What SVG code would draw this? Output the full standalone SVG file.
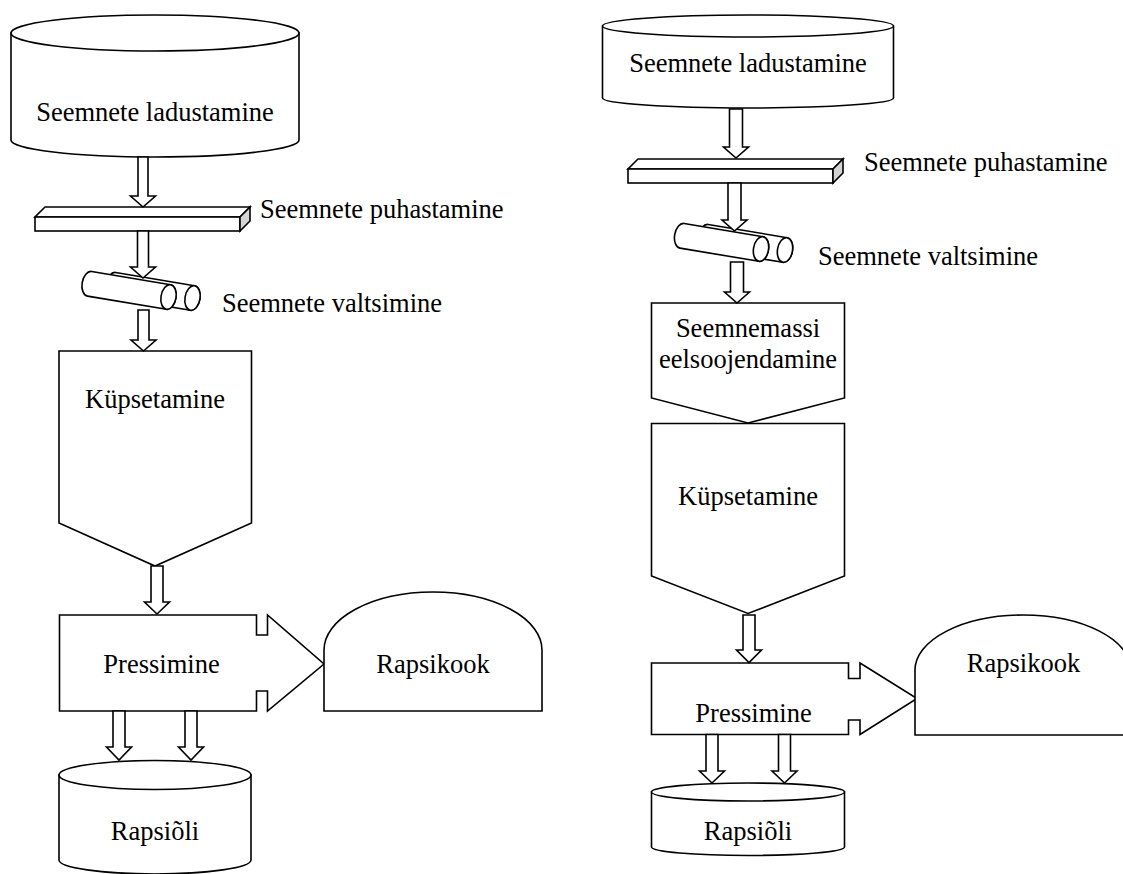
<svg xmlns="http://www.w3.org/2000/svg" width="1123" height="874" viewBox="0 0 1123 874">
<style>
.s{fill:#fff;stroke:#000;stroke-width:1.6;stroke-linejoin:miter}
.g{fill:#d4d4d4;stroke:#000;stroke-width:1.6}
.t{font-family:"Liberation Serif","Times New Roman",serif;font-size:26.5px;fill:#000}
.m{text-anchor:middle}
</style>
<defs>
<g id="roller">
<path class="s" d="M-80,-12.5 L0,-12.5 A7.5,12.5 0 0 1 0,12.5 L-80,12.5 A7.5,12.5 0 0 1 -80,-12.5 Z"/>
<ellipse class="s" cx="0" cy="0" rx="7.5" ry="12.5"/>
</g>
<g id="plate">
<path class="s" d="M0,0 L205,0 L215,-10 L10,-10 Z"/>
<rect class="s" x="0" y="0" width="205" height="14"/>
<path class="g" d="M205,0 L215,-10 L215,4 L205,14 Z"/>
</g>
</defs>
<rect width="1123" height="874" fill="#fff"/>

<g id="left-storage">
<path class="s" d="M11,33 L11,140 A144,17 0 0 0 299,140 L299,33 Z"/>
<ellipse class="s" cx="155" cy="33" rx="144" ry="18"/>
<text class="t m" x="155" y="121">Seemnete ladustamine</text>
</g>
<g id="left-cleaning">
<use href="#plate" x="35" y="217"/>
<text class="t" x="260" y="218">Seemnete puhastamine</text>
</g>
<g id="left-rolling">
<use href="#roller" transform="translate(192.5,298) rotate(9.5)"/>
<use href="#roller" transform="translate(168.5,297) rotate(9.5)"/>
<text class="t" x="222" y="312">Seemnete valtsimine</text>
</g>
<g id="left-cooking">
<path class="s" d="M59,351 L251.5,351 L251.5,523 L155,566 L59,523 Z"/>
<text class="t m" x="155" y="408">Küpsetamine</text>
</g>
<g id="left-pressing">
<path class="s" d="M59.5,615 L256.5,615 L256.5,635 L267.5,635 L267.5,615 L324,664 L267.5,711 L267.5,691 L256.5,691 L256.5,711 L59.5,711 Z"/>
<text class="t m" x="161.5" y="673">Pressimine</text>
</g>
<g id="left-cake">
<path class="s" d="M324,711 L324,650 A109,58 0 0 1 542,650 L542,711 Z"/>
<text class="t m" x="433" y="673">Rapsikook</text>
</g>
<g id="left-oil">
<path class="s" d="M59,775 L59,860 A96,14 0 0 0 251,860 L251,775 Z"/>
<ellipse class="s" cx="155" cy="775" rx="96" ry="14.5"/>
<text class="t m" x="155" y="840">Rapsiõli</text>
</g>

<g id="right-storage">
<path class="s" d="M602.5,26 L602.5,98 A145.5,10 0 0 0 893.5,98 L893.5,26 Z"/>
<ellipse class="s" cx="748" cy="26" rx="145.5" ry="11"/>
<text class="t m" x="748" y="72">Seemnete ladustamine</text>
</g>
<g id="right-cleaning">
<use href="#plate" x="628" y="169"/>
<text class="t" x="864" y="171">Seemnete puhastamine</text>
</g>
<g id="right-rolling">
<use href="#roller" transform="translate(785,250) rotate(9.5)"/>
<use href="#roller" transform="translate(761,249) rotate(9.5)"/>
<text class="t" x="818" y="265">Seemnete valtsimine</text>
</g>
<g id="right-preheating">
<path class="s" d="M651.5,303 L844.5,303 L844.5,398 L748,423 L651.5,398 Z"/>
<text class="t m" x="748" y="337">Seemnemassi</text>
<text class="t m" x="748" y="367.5">eelsoojendamine</text>
</g>
<g id="right-cooking">
<path class="s" d="M651.5,423.5 L844.5,423.5 L844.5,576 L748,613.5 L651.5,576 Z"/>
<text class="t m" x="748" y="505">Küpsetamine</text>
</g>
<g id="right-pressing">
<path class="s" d="M651.5,663 L848.5,663 L848.5,678.5 L860,678.5 L860,663 L917,698.5 L860,734.5 L860,720 L848.5,720 L848.5,734.5 L651.5,734.5 Z"/>
<text class="t m" x="753.5" y="722">Pressimine</text>
</g>
<g id="right-cake">
<path class="s" d="M915,735 L915,670 A108,55 0 0 1 1131,670 L1131,735 Z"/>
<text class="t m" x="1023.5" y="672">Rapsikook</text>
</g>
<g id="right-oil">
<path class="s" d="M651.5,792 L651.5,847 A96.5,8.5 0 0 0 844.5,847 L844.5,792 Z"/>
<ellipse class="s" cx="748" cy="792" rx="96.5" ry="9"/>
<text class="t m" x="748" y="840">Rapsiõli</text>
</g>

<g id="connectors">
<polygon class="s" points="138,157 148,157 148,196 155.5,196 143,207 130.5,196 138,196"/>
<polygon class="s" points="137.5,231 148.5,231 148.5,267 155.5,267 143,278 130.5,267 137.5,267"/>
<polygon class="s" points="138,310 149,310 149,340 156,340 143.5,351 131,340 138,340"/>
<polygon class="s" points="151,566 163,566 163,602 169.5,602 157,614 144.5,602 151,602"/>
<polygon class="s" points="113,711 125,711 125,747 131.5,747 119,760 106.5,747 113,747"/>
<polygon class="s" points="185,711 197,711 197,747 203.5,747 191,760 178.5,747 185,747"/>
<polygon class="s" points="729.5,109 742.5,109 742.5,147 748.5,147 736,158 723.5,147 729.5,147"/>
<polygon class="s" points="728,183 741,183 741,220 747,220 734.5,231 722,220 728,220"/>
<polygon class="s" points="730.5,262 743.5,262 743.5,292 749.5,292 737,303 724.5,292 730.5,292"/>
<polygon class="s" points="743,615 755,615 755,650 761.5,650 749,662.5 736.5,650 743,650"/>
<polygon class="s" points="706,734.5 718,734.5 718,771 724.5,771 712,783 699.5,771 706,771"/>
<polygon class="s" points="778.5,734.5 790.5,734.5 790.5,771 797,771 784.5,783 772,771 778.5,771"/>
</g>
</svg>
